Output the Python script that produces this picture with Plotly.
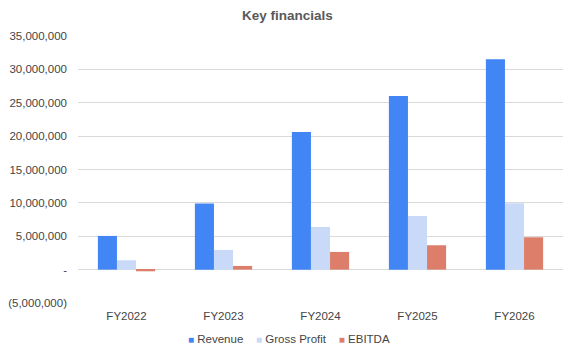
import plotly.graph_objects as go

categories = ["FY2022", "FY2023", "FY2024", "FY2025", "FY2026"]
revenue = [5050000, 9900000, 20600000, 26000000, 31500000]
gross_profit = [1400000, 2950000, 6400000, 8050000, 9950000]
ebitda = [-250000, 550000, 2650000, 3650000, 4850000]

series_names = ["Revenue", "Gross Profit", "EBITDA"]
series_colors = ["#4285F4", "#C9DAF8", "#DD7E6B"]

tick_vals = [-5000000, 0, 5000000, 10000000, 15000000, 20000000, 25000000, 30000000, 35000000]
tick_text = ["(5,000,000)", "-", "5,000,000", "10,000,000", "15,000,000", "20,000,000",
             "25,000,000", "30,000,000", "35,000,000"]

font_family = "Liberation Sans, Arial, sans-serif"

fig = go.Figure()
for name, vals, col in zip(series_names, [revenue, gross_profit, ebitda], series_colors):
    fig.add_trace(go.Bar(name=name, x=categories, y=vals, marker_color=col, marker_line_width=0))

legend_html = "&nbsp;&nbsp;&nbsp;&nbsp;".join(
    f"<span style='color:{c}; font-size:10px'>■</span> {n}" for n, c in zip(series_names, series_colors)
)

fig.update_layout(
    width=575, height=355,
    margin=dict(l=78, r=12, t=36, b=52, autoexpand=False),
    paper_bgcolor="white", plot_bgcolor="white",
    barmode="group", bargap=0.41, bargroupgap=0,
    font=dict(family=font_family, size=11.5, color="#444444"),
    title=dict(text="<b>Key financials</b>", x=0.5, xanchor="center", y=0.957, yanchor="middle",
               font=dict(family=font_family, size=13.5, color="#595959")),
    showlegend=False,
    annotations=[dict(text=legend_html, xref="paper", yref="paper", x=0.435, y=-0.135,
                      xanchor="center", yanchor="middle", showarrow=False,
                      font=dict(family=font_family, size=11.5, color="#444444"))],
)
fig.update_xaxes(showgrid=False, showline=False, ticks="", automargin=False,
                 tickfont=dict(size=11.5, color="#444444"), ticklabelstandoff=4)
fig.update_yaxes(range=[-5000000, 35000000], tickvals=tick_vals, ticktext=tick_text, automargin=False,
                 showgrid=True, gridcolor="#d9d9d9", gridwidth=1,
                 zeroline=True, zerolinecolor="#d9d9d9", zerolinewidth=1,
                 showline=False, ticks="", ticklabelstandoff=10,
                 tickfont=dict(size=11.5, color="#444444"))

fig.write_html("out.html", config={"displayModeBar": False},
               post_script="document.body.style.margin='0';document.body.style.overflow='hidden';")
